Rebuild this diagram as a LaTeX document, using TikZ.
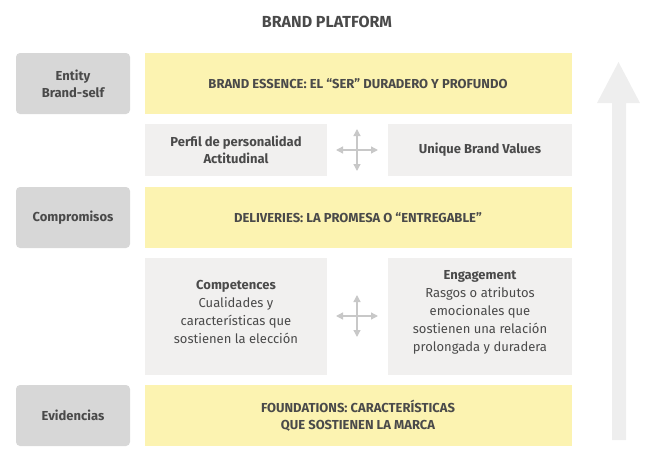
\documentclass[tikz,border=0pt]{standalone}
\usepackage{fontspec}
\usetikzlibrary{arrows.meta}
\setmainfont{Fira Sans}
\begin{document}
\begin{tikzpicture}[x=1pt,y=-1pt,
 side/.style={fill=sideg,rounded corners=4pt,draw=none},
 yel/.style={fill=yel},
 lg/.style={fill=lgray},
 lbl/.style={font=\bfseries\fontsize{13}{17}\selectfont,text=txt,align=center},
 nlbl/.style={font=\fontsize{13}{18}\selectfont,text=txt,align=center},
 crossarr/.style={draw=crossg,line width=1.3pt,-{Triangle[width=7pt,length=7pt]}}]
\definecolor{sideg}{HTML}{D7D7D7}
\definecolor{yel}{HTML}{FCF3B1}
\definecolor{lgray}{HTML}{F1F0EF}
\definecolor{txt}{HTML}{4A4A4A}
\definecolor{crossg}{HTML}{C8C8C8}
\definecolor{arrg}{HTML}{EEEEEE}
\useasboundingbox (0,0) rectangle (649,471);
\node[font=\bfseries\fontsize{16}{18}\selectfont,text=txt] (title) at (327,22) {BRAND PLATFORM};
% side boxes
\draw[side] (16,53) rectangle (130,114);
\node[lbl] (s1) at (73,83.5) {Entity\\Brand-self};
\draw[side] (16,187) rectangle (130,248);
\node[lbl] (s2) at (73,217.5) {Compromisos};
\draw[side] (16,385) rectangle (130,446);
\node[lbl] (s3) at (73,415.5) {Evidencias};
% yellow
\fill[yel] (145,53) rectangle (572,114);
\node[lbl] (y1) at (358,83.5) {BRAND ESSENCE: EL “SER” DURADERO Y PROFUNDO};
\fill[yel] (145,187) rectangle (572,248);
\node[lbl] (y2) at (358,217.5) {DELIVERIES: LA PROMESA O “ENTREGABLE”};
\fill[yel] (145,385) rectangle (572,446);
\node[lbl] (y3) at (358,415.5) {FOUNDATIONS: CARACTERÍSTICAS\\QUE SOSTIENEN LA MARCA};
% light gray
\fill[lg] (145,124) rectangle (327,176);
\node[lbl] (p1) at (236,150) {Perfil de personalidad\\Actitudinal};
\fill[lg] (388,124) rectangle (572,176);
\node[lbl] (p2) at (480,150) {Unique Brand Values};
\fill[lg] (145,258) rectangle (327,375);
\node[nlbl] (c1) at (236,312) {\textbf{Competences}\\Cualidades y\\características que\\sostienen la elección};
\fill[lg] (388,258) rectangle (572,375);
\node[nlbl] (c2) at (480,312) {\textbf{Engagement}\\Rasgos o atributos\\emocionales que\\sostienen una relación\\prolongada y duradera};
% crosses
\foreach \cy/\nm in {150/a,316/b}{
 \coordinate (x\nm) at (357,\cy);
 \draw[crossarr] (x\nm) -- ++(-21,0);
 \draw[crossarr] (x\nm) -- ++(21,0);
 \draw[crossarr] (x\nm) -- ++(0,-21);
 \draw[crossarr] (x\nm) -- ++(0,21);
}
% big arrow
\fill[arrg] (612,440) -- (612,103) -- (597,103) -- (618.5,62) -- (640,103) -- (626,103) -- (626,440) -- cycle;
\end{tikzpicture}
\end{document}
